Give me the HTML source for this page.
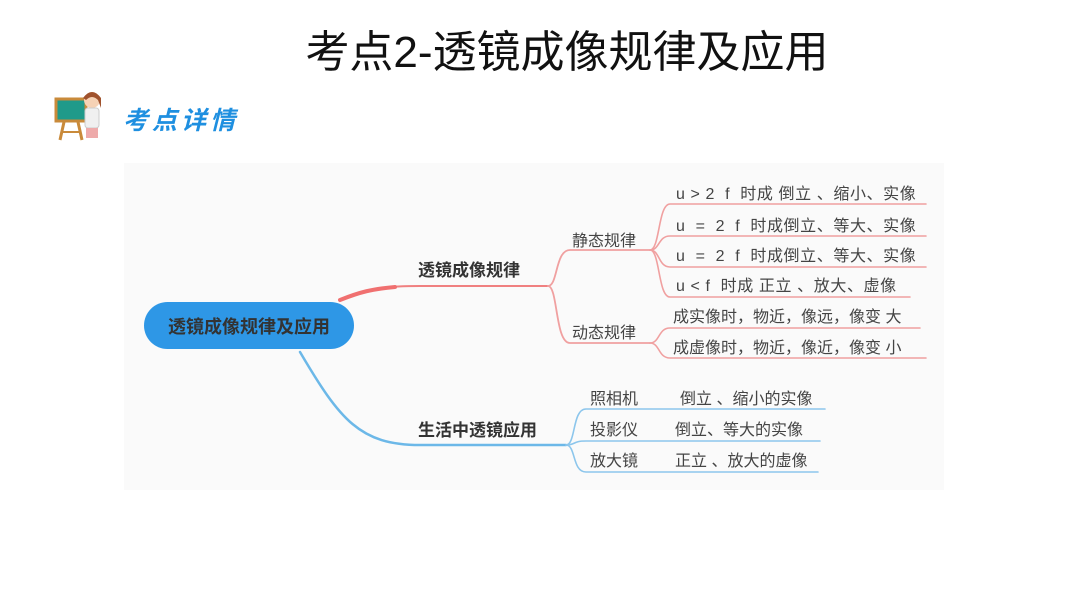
<!DOCTYPE html>
<html><head><meta charset="utf-8"><style>
html,body{margin:0;padding:0;background:#fff;}
svg{display:block;font-family:"Liberation Sans","Noto Sans CJK SC",sans-serif;}
</style></head><body>
<svg width="1066" height="600" viewBox="0 0 1066 600" xmlns="http://www.w3.org/2000/svg">
<rect width="1066" height="600" fill="#fff"/>
<text x="567" y="67" font-size="44" text-anchor="middle" fill="#111">考点2-透镜成像规律及应用</text>
<g>
<rect x="56" y="99" width="30" height="22" fill="#1f9a8a" stroke="#c98a3a" stroke-width="3"/>
<line x1="64" y1="122" x2="60" y2="140" stroke="#c98a3a" stroke-width="3"/>
<line x1="78" y1="122" x2="82" y2="140" stroke="#c98a3a" stroke-width="3"/>
<line x1="62" y1="132" x2="80" y2="132" stroke="#c98a3a" stroke-width="2"/>
<circle cx="92" cy="100" r="8" fill="#f6d2b5"/>
<path d="M83 98 Q92 86 101 98 L101 108 L98 100 Q92 94 86 100 Z" fill="#a0522d"/>
<rect x="85" y="108" width="14" height="20" rx="3" fill="#f0f0f0" stroke="#ccc"/>
<rect x="86" y="128" width="12" height="10" fill="#eaa"/>
</g>
<text x="123" y="129" font-size="25" fill="#1e8fe0" letter-spacing="4" font-style="italic" font-weight="bold">考点详情</text>
<rect x="124" y="163" width="820" height="327" fill="#fafafa"/>
<g fill="none" stroke-linecap="round">
<path d="M340 300 C370 288 385 286 420 286 L548 286" stroke="#f08080" stroke-width="2"/>
<path d="M340 300 C360 292 372 289 395 287" stroke="#f07070" stroke-width="4"/>
<path d="M548 286 C558 286 555 250 570 250 L650 250" stroke="#f0a0a0" stroke-width="1.8"/>
<path d="M548 286 C558 286 555 343 570 343 L650 343" stroke="#f0a0a0" stroke-width="1.8"/>
<path d="M650 250 C660 250 658 204 670 204 L926 204" stroke="#f0a0a0" stroke-width="1.6"/>
<path d="M650 250 C660 250 658 236 670 236 L926 236" stroke="#f0a0a0" stroke-width="1.6"/>
<path d="M650 250 C660 250 658 267 670 267 L926 267" stroke="#f0a0a0" stroke-width="1.6"/>
<path d="M650 250 C660 250 658 297 670 297 L910 297" stroke="#f0a0a0" stroke-width="1.6"/>
<path d="M650 343 C660 343 658 328 670 328 L920 328" stroke="#f0a0a0" stroke-width="1.6"/>
<path d="M650 343 C660 343 658 358 670 358 L926 358" stroke="#f0a0a0" stroke-width="1.6"/>
<path d="M300 352 C340 420 360 445 420 445 L566 445" stroke="#6cb8e8" stroke-width="2.5"/>
<path d="M566 445 C576 445 572 409 586 409 L825 409" stroke="#8cc6ec" stroke-width="1.6"/>
<path d="M566 445 C576 445 572 441 586 441 L820 441" stroke="#8cc6ec" stroke-width="1.6"/>
<path d="M566 445 C576 445 572 472 586 472 L818 472" stroke="#8cc6ec" stroke-width="1.6"/>
</g>
<rect x="144" y="302" width="210" height="47" rx="23.5" fill="#2e97e6"/>
<text x="249" y="333" font-size="18" font-weight="bold" text-anchor="middle" fill="#333">透镜成像规律及应用</text>
<g font-size="17" font-weight="bold" fill="#333">
<text x="418" y="276">透镜成像规律</text>
<text x="418" y="436">生活中透镜应用</text>
</g>
<g font-size="16" fill="#444">
<text x="572" y="246">静态规律</text>
<text x="572" y="338">动态规律</text>
<text x="676" y="199" xml:space="preserve" letter-spacing="0.6">u &gt; 2  f  时成 倒立 、缩小、实像</text>
<text x="676" y="231" xml:space="preserve" letter-spacing="0.6">u  =  2  f  时成倒立、等大、实像</text>
<text x="676" y="261" xml:space="preserve" letter-spacing="0.6">u  =  2  f  时成倒立、等大、实像</text>
<text x="676" y="291" xml:space="preserve" letter-spacing="0.6">u &lt; f  时成 正立 、放大、虚像</text>
<text x="673" y="322">成实像时，物近，像远，像变 大</text>
<text x="673" y="353">成虚像时，物近，像近，像变 小</text>
<text x="590" y="404">照相机</text>
<text x="680" y="404">倒立 、缩小的实像</text>
<text x="590" y="435">投影仪</text>
<text x="675" y="435">倒立、等大的实像</text>
<text x="590" y="466">放大镜</text>
<text x="675" y="466">正立 、放大的虚像</text>
</g>
</svg>
</body></html>
